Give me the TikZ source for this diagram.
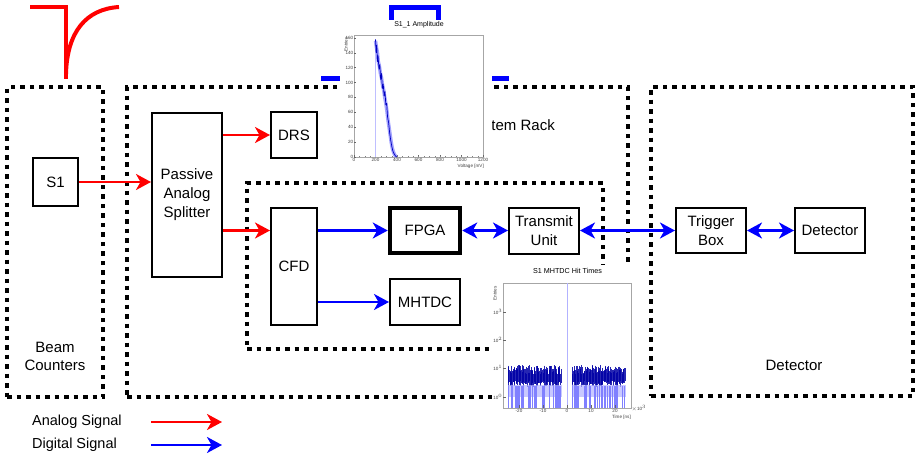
\documentclass[tikz,border=0pt]{standalone}
\usepackage{fontspec}
\setmainfont{Liberation Sans}
\usetikzlibrary{arrows.meta}

\begin{document}
\begin{tikzpicture}[x=1pt,y=-1pt,
  >={Stealth[length=15pt,width=16pt,inset=4.5pt]},
  box/.style={draw, line width=2pt, fill=white, align=center, inner sep=0pt,
    font=\fontsize{15}{19}\selectfont},
  region/.style={draw, line width=4.5pt, dash pattern=on 4.5pt off 5pt, inner sep=0pt},
  sig/.style={line width=2.5pt, ->},
  analog/.style={sig, red},
  digital/.style={sig, blue},
  duplex/.style={line width=2.5pt, blue, <->},
  lbl/.style={align=center, inner sep=0pt, font=\fontsize{15}{18}\selectfont},
  plotbg/.style={fill=white, draw=none},
  frame/.style={draw=black!35, line width=0.5pt},
  tickl/.style={inner sep=0.5pt, text=black!75, font=\fontsize{4.6}{5}\selectfont},
  axtitle/.style={inner sep=0pt, text=black!75, font=\fontsize{4.6}{5}\selectfont},
  ptitle/.style={inner sep=0pt, font=\fontsize{7}{8}\selectfont},
]
\useasboundingbox (0,0) rectangle (915,453);

% ---------- dotted regions ----------
\node[region, minimum width=96pt, minimum height=310pt] (beamreg) at (55,242) {};
\node[region, minimum width=501pt, minimum height=310pt] (rackreg) at (377.5,242) {};
\node[region, minimum width=356pt, minimum height=166pt] (daqreg) at (425,266) {};
\node[region, minimum width=262pt, minimum height=309pt] (detreg) at (782,241.5) {};

\node[lbl] (beamlbl) at (55,356) {Beam\\Counters};
\node[lbl, anchor=east] (racklbl) at (555,127) {System Rack};
\node[lbl] (detlbl) at (794,365) {Detector};

% ---------- pulse sketches ----------
\draw[red, line width=4pt] (30,7) -- (66,7) -- (66,79);
\draw[red, line width=4pt] (66,74) .. controls (67,32) and (86,9) .. (119,7);
\draw[blue, line width=5pt] (321,78.5) -- (391.5,78.5) -- (391.5,7.5) -- (438.5,7.5)
  -- (438.5,78.5) -- (509,78.5);

% ---------- amplitude histogram ----------
\fill[plotbg] (340,20) rectangle (492,166);
\node[ptitle] (amptitle) at (419,25) {S1\_1 Amplitude};
\draw[frame] (354,35) rectangle (483,157);
\begin{scope}[shift={(354pt,-157pt)}, x=0.1075pt, y=0.745pt]
  \foreach \v in {0,20,...,160} {
    \draw[black!60, line width=0.3pt] (0,\v) -- (22,\v);
    \node[tickl, anchor=east] (ampy\v) at (0,\v) {\v};
  }
  \foreach \v in {0,200,...,1200} {
    \draw[black!60, line width=0.3pt] (\v,0) -- (\v,3);
    \node[tickl, anchor=north] (ampx\v) at (\v,-1) {\v};
  }
  \foreach \v in {50,100,...,1150} \draw[black!50, line width=0.2pt] (\v,0) -- (\v,1.5);
  \draw[blue!25, line width=0.6pt] (200,0) -- (200,150);
  \draw[blue!45, line width=3.5pt, line join=round, opacity=0.8]
    (200,156) -- (210,146) -- (218,140) -- (226,128) -- (236,122) -- (246,112)
    -- (256,106) -- (266,96) -- (276,90) -- (286,80) -- (296,72) -- (306,62)
    -- (316,50) -- (326,40) -- (336,30) -- (346,20) -- (356,12) -- (366,7)
    -- (378,3) -- (392,0.5);
  \draw[blue!75!black, line width=0.7pt, line join=round]
    (200,158) -- (206,140) -- (212,150) -- (218,128) -- (224,136) -- (232,118)
    -- (240,124) -- (248,104) -- (256,112) -- (264,92) -- (272,98) -- (280,82)
    -- (288,88) -- (296,70) -- (304,72) -- (312,54) -- (322,46) -- (332,32)
    -- (342,22) -- (352,14) -- (362,8) -- (374,4) -- (388,1) -- (400,0);
\end{scope}
\node[axtitle, anchor=east] (ampxt) at (484,166) {Voltage [mV]};
\node[axtitle, anchor=east, rotate=90] (ampyt) at (346,37) {Entries};

% ---------- hit time histogram ----------
\fill[plotbg] (492,265) rectangle (641,422);
\node[ptitle, font=\fontsize{7.2}{8}\selectfont] (hittitle) at (567.5,271) {S1 MHTDC Hit Times};
\draw[frame] (503,283) rectangle (631,408);
\draw[blue!30, line width=0.6pt] (567,283) -- (567,408);
\pgfmathsetseed{42}
\foreach \s in {508,572} {
  \foreach \i in {0,...,88} {
    \pgfmathsetmacro\xx{\s+\i*0.6}
    \pgfmathsetmacro\yt{365+9*rnd}
    \pgfmathsetmacro\yb{381+6*rnd}
    \draw[blue!65!black, line width=0.6pt, opacity=0.85] (\xx,\yt) -- (\xx,\yb);
  }
  \fill[blue!30, opacity=0.7] (\s,385) rectangle (\s+53.5,397);
  \foreach \i in {0,...,38} {
    \pgfmathsetmacro\xx{\s+53*rnd}
    \draw[blue!50, line width=0.6pt] (\xx,386) -- (\xx,408);
  }
}
\foreach \e/\py in {3/312,2/340,1/368,0/397} {
  \draw[black!60, line width=0.3pt] (503,\py) -- (506,\py);
  \node[tickl, anchor=east] (hity\e) at (503,\py) {10$^{\e}$};
}
\foreach \v in {-20,-10,0,10,20} {
  \pgfmathsetmacro\px{567+2.4*\v}
  \draw[black!60, line width=0.3pt] (\px,408) -- (\px,405);
  \node[tickl, anchor=north] (hitx\v) at (\px,409) {\v};
}
\node[tickl, anchor=west] (hitscale) at (631,408) {$\times$10$^{3}$};
\node[axtitle, anchor=north east] (hitxt) at (631,415) {Time [ns]};
\node[axtitle, anchor=east, rotate=90] (hityt) at (495,286) {Entries};

% ---------- blocks ----------
\node[box, minimum width=45pt, minimum height=48pt] (s1) at (55.5,182) {S1};
\node[box, minimum width=70pt, minimum height=164pt] (split) at (187,195) {Passive\\Analog\\Splitter};
\node[box, minimum width=46pt, minimum height=46pt] (drs) at (294,135) {DRS};
\node[box, minimum width=46pt, minimum height=117pt] (cfd) at (294,266.5) {CFD};
\node[box, line width=4.5pt, minimum width=70pt, minimum height=45pt] (fpga) at (425,230.5) {FPGA};
\node[box, minimum width=70pt, minimum height=46pt] (mhtdc) at (425,302) {MHTDC};
\node[box, minimum width=70pt, minimum height=46pt] (tx) at (544,230.5) {Transmit\\Unit};
\node[box, minimum width=70pt, minimum height=45pt] (trig) at (711,230.5) {Trigger\\Box};
\node[box, minimum width=70pt, minimum height=45pt] (det) at (830,230.5) {Detector};

% ---------- signal paths ----------
\draw[analog] (s1.east) -- (s1.east -| split.west);
\draw[analog] (split.east |- drs.west) -- (drs.west);
\draw[analog] (split.east |- fpga.west) -- (cfd.west |- fpga.west);
\draw[digital] (cfd.east |- fpga.west) -- (fpga.west);
\draw[digital] (cfd.east |- mhtdc.west) -- (mhtdc.west);
\draw[duplex] (fpga.east) -- (tx.west);
\draw[duplex] (tx.east) -- (trig.west);
\draw[duplex] (trig.east) -- (det.west);

% ---------- legend ----------
\node[lbl, anchor=west, font=\fontsize{14.5}{17}\selectfont] (alegend) at (32,422) {Analog Signal};
\node[lbl, anchor=west, font=\fontsize{14.5}{17}\selectfont] (dlegend) at (32,445) {Digital Signal};
\coordinate (aa) at (151,422);
\coordinate (ab) at (222,422);
\coordinate (da) at (151,445);
\coordinate (db) at (222,445);
\draw[analog] (aa) -- (ab);
\draw[digital] (da) -- (db);
\end{tikzpicture}
\end{document}
